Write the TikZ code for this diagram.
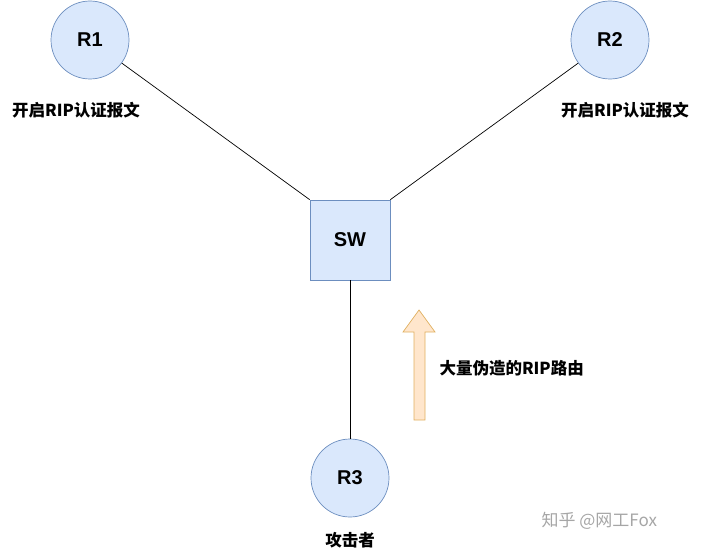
\documentclass[tikz,border=0pt]{standalone}
\usepackage{fontspec}
\setmainfont{Liberation Sans}
\newfontfamily\cjk{Noto Sans CJK SC}
\begin{document}
\begin{tikzpicture}[x=1pt,y=-1pt,
  rt/.style={circle,draw=blue!45!gray,fill=blue!12,line width=0.7pt,minimum size=78pt,inner sep=0,font=\bfseries\fontsize{20}{20}\selectfont},
  lbl/.style={font=\cjk\bfseries\fontsize{16.5}{16.5}\selectfont},
  ln/.style={draw=black,line width=0.7pt}]
\useasboundingbox (0,0) rectangle (701,551);
\definecolor{nfill}{HTML}{DAE8FC}\definecolor{nline}{HTML}{6C8EBF}
\node[rt,fill=nfill,draw=nline] (r1) at (90,40) {R1};
\node[rt,fill=nfill,draw=nline] (r2) at (610,40) {R2};
\node[rt,fill=nfill,draw=nline] (r3) at (350,478) {R3};
\node[draw=nline,fill=nfill,line width=0.7pt,minimum size=80pt,inner sep=0,font=\bfseries\fontsize{20}{20}\selectfont] (sw) at (350,240) {SW};
\draw[ln] (r1) -- (sw.north west);
\draw[ln] (r2) -- (sw.north east);
\draw[ln] (r3) -- (sw);
\node[lbl] (l1) at (76,110) {开启RIP认证报文};
\node[lbl] (l2) at (625,110) {开启RIP认证报文};
\node[lbl] (l3) at (350,540) {攻击者};
\node[lbl,anchor=west] (l4) at (436,368) {大量伪造的RIP路由};
\definecolor{afill}{HTML}{FFE6CC}\definecolor{aline}{HTML}{E0B060}
\draw[fill=afill,draw=aline,line width=0.7pt] (419,310) -- (435,332) -- (425,332) -- (425,420) -- (414,420) -- (414,332) -- (403,332) -- cycle;
\node[font=\cjk\fontsize{17}{17}\selectfont,text=black!35,anchor=west] (wm) at (538,521) {知乎 @网工Fox};
\end{tikzpicture}
\end{document}
